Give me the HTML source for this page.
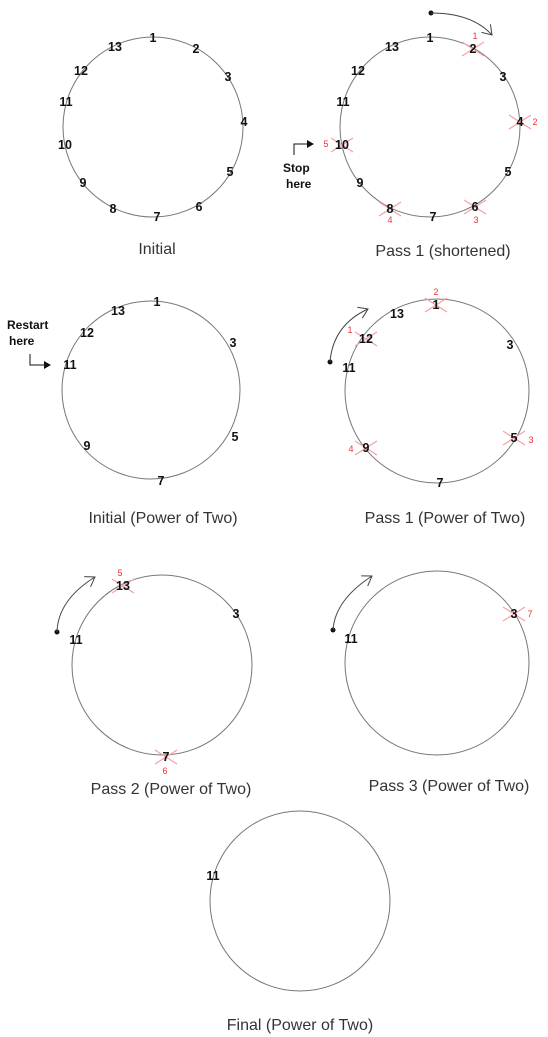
<!DOCTYPE html>
<html><head><meta charset="utf-8"><style>
html,body{margin:0;padding:0;background:#fff;}
svg{display:block;}
.lbl{font-family:"Liberation Sans",Arial,sans-serif;font-weight:bold;font-size:12.5px;fill:#111;text-anchor:middle;dominant-baseline:central;}
.red{font-family:"Liberation Sans",Arial,sans-serif;font-size:9px;fill:#f03030;text-anchor:middle;dominant-baseline:central;}
.cap{font-family:"Liberation Sans",Arial,sans-serif;font-size:16px;fill:#333;text-anchor:middle;}
.note{font-family:"Liberation Sans",Arial,sans-serif;font-weight:bold;font-size:12px;fill:#111;}
</style></head><body>
<svg id="diag" width="548" height="1037" viewBox="0 0 548 1037">
<defs>
<marker id="ah" markerWidth="8" markerHeight="8" refX="6" refY="4" orient="auto"><path d="M0,0 L7,4 L0,8 z" fill="#111"/></marker>
<marker id="oh" markerWidth="14" markerHeight="14" refX="10" refY="7" orient="auto" markerUnits="userSpaceOnUse"><path d="M1,1 L10,7 L1,13" fill="none" stroke="#444" stroke-width="1"/></marker>
</defs>
</svg>
<script>
const panelNames=["initial","pass-1-shortened","initial-power-of-two","pass-1-power-of-two","pass-2-power-of-two","pass-3-power-of-two","final-power-of-two"];
const captions=["Initial","Pass 1 (shortened)","Initial (Power of Two)","Pass 1 (Power of Two)","Pass 2 (Power of Two)","Pass 3 (Power of Two)","Final (Power of Two)"];
const circles=[[153,127,90],[430,127,90],[151,390,89],[437,391,92],[162,665,90],[437,663,92],[300,901,90]];
const capPos=[[157,254],[443,256],[163,523],[445,523],[171,794],[449,791],[300,1030]];
const labels=[
[[1,153,38],[2,196,49],[3,228,77],[4,244,122],[5,230,172],[6,199,207],[7,157,217],[8,113,209],[9,83,183],[10,65,145],[11,66,102],[12,81,71],[13,115,47]],
[[1,430,38],[2,473,49],[3,503,77],[4,520,122],[5,508,172],[6,475,207],[7,433,217],[8,390,209],[9,360,183],[10,342,145],[11,343,102],[12,358,71],[13,392,47]],
[[1,157,302],[13,118,311],[12,87,333],[11,70,365],[9,87,446],[7,161,481],[5,235,437],[3,233,343]],
[[1,436,305],[13,397,314],[12,366,339],[11,349,368],[9,366,448],[7,440,483],[5,514,438],[3,510,345]],
[[13,123,586],[3,236,614],[11,76,640],[7,166,757]],
[[11,351,639],[3,514,614]],
[[11,213,876]]];
const crosses=[[],
[[473,49,1,475,36],[520,122,2,535,122],[475,207,3,476,220],[390,209,4,390,220],[342,145,5,326,144]],
[],
[[366,339,1,350,330],[436,305,2,436,292],[514,438,3,531,440],[366,448,4,351,449]],
[[123,586,5,120,573],[166,757,6,165,771]],
[[514,614,7,530,614]],[]];
const arrows=[null,[431,13,472,13,492,35],null,[330,362,333,325,368,309],[57,632,58,600,95,577],[333,630,335,600,372,576],null];
const NS="http://www.w3.org/2000/svg";
const svg=document.getElementById("diag");
function mk(t,a,p){const e=document.createElementNS(NS,t);for(const k in a)e.setAttribute(k,a[k]);(p||svg).appendChild(e);return e;}
circles.forEach((c,i)=>{
  const g=mk("g",{});
  
  
  const ci=mk("circle",{cx:c[0],cy:c[1],r:c[2],fill:"none",stroke:"#777","stroke-width":1},g);
  
  
  crosses[i].forEach(x=>{
    const cr=mk("path",{d:`M${x[0]-11},${x[1]-7}L${x[0]+11},${x[1]+7}M${x[0]-11},${x[1]+7}L${x[0]+11},${x[1]-7}`,stroke:"#f4a0a8","stroke-width":1.2,fill:"none"},g);
    
    
    const t=mk("text",{x:x[3],y:x[4],class:"red"},g);t.textContent=x[2];
    
    
  });
  labels[i].forEach(l=>{
    const t=mk("text",{x:l[1],y:l[2],class:"lbl"},g);t.textContent=l[0];
    
    
  });
  const a=arrows[i];
  if(a){
    mk("circle",{cx:a[0],cy:a[1],r:2.5,fill:"#111"},g);
    const p=mk("path",{d:`M${a[0]},${a[1]}Q${a[2]},${a[3]} ${a[4]},${a[5]}`,fill:"none",stroke:"#444","stroke-width":1,"marker-end":"url(#oh)"},g);
    
    
  }
  const cp=mk("text",{x:capPos[i][0],y:capPos[i][1],class:"cap"},g);cp.textContent=captions[i];
  
  
});
const s1=mk("text",{x:283,y:172,class:"note"});s1.textContent="Stop";


const s2=mk("text",{x:286,y:188,class:"note"});s2.textContent="here";
const sp=mk("path",{d:"M294,155 L294,144 L313,144",fill:"none",stroke:"#111","marker-end":"url(#ah)"});


const r1=mk("text",{x:7,y:329,class:"note"});r1.textContent="Restart";


const r2=mk("text",{x:9,y:345,class:"note"});r2.textContent="here";
const rp=mk("path",{d:"M30,354 L30,365 L50,365",fill:"none",stroke:"#111","marker-end":"url(#ah)"});


</script>
</body></html>
